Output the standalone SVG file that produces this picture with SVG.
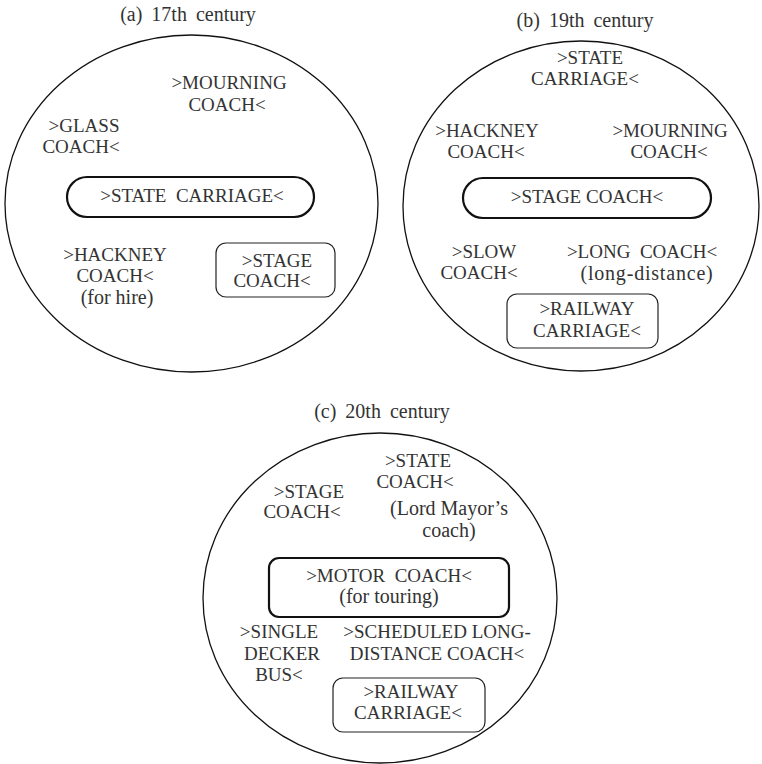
<svg xmlns="http://www.w3.org/2000/svg" width="762" height="764" viewBox="0 0 762 764">
<style>
text{font-family:"Liberation Serif","Times New Roman",serif;font-size:19px;fill:#333;text-anchor:middle}
.t{font-size:20px;word-spacing:4px}
.lc{font-size:20px}
.frame{fill:none;stroke:#111;stroke-width:1.3}
.thick{fill:none;stroke:#111;stroke-width:2.2}
.thin{fill:none;stroke:#222;stroke-width:1.2}
</style>
<rect width="762" height="764" fill="#fff"/>
<g id="panel-a">
<text class="t" x="188" y="21">(a) 17th century</text>
<ellipse class="frame" cx="191.5" cy="203.5" rx="186.5" ry="168.5"/>
<g id="a-mourning"><text x="229" y="89">&gt;MOURNING</text><text x="227" y="111">COACH&lt;</text></g>
<g id="a-glass"><text x="84" y="132">&gt;GLASS</text><text x="81" y="153">COACH&lt;</text></g>
<g id="a-state"><rect class="thick" x="67" y="177" width="247" height="40" rx="20"/><text x="192" y="202" xml:space="preserve">&gt;STATE  CARRIAGE&lt;</text></g>
<g id="a-hackney"><text x="115" y="261">&gt;HACKNEY</text><text x="115" y="282">COACH&lt;</text><text class="lc" x="117" y="304">(for hire)</text></g>
<g id="a-stage"><rect class="thin" x="216" y="243" width="119" height="54" rx="10"/><text x="277" y="267">&gt;STAGE</text><text x="272" y="287">COACH&lt;</text></g>
</g>
<g id="panel-b">
<text class="t" x="585" y="27">(b) 19th century</text>
<ellipse class="frame" cx="581" cy="206" rx="178" ry="165"/>
<g id="b-state"><text x="590" y="64">&gt;STATE</text><text x="585" y="85">CARRIAGE&lt;</text></g>
<g id="b-hackney"><text x="487" y="137">&gt;HACKNEY</text><text x="486" y="158">COACH&lt;</text></g>
<g id="b-mourning"><text x="670" y="137">&gt;MOURNING</text><text x="669" y="158">COACH&lt;</text></g>
<g id="b-stage"><rect class="thick" x="463" y="178" width="248" height="40" rx="20"/><text x="587" y="203">&gt;STAGE COACH&lt;</text></g>
<g id="b-slow"><text x="484" y="258">&gt;SLOW</text><text x="479" y="279">COACH&lt;</text></g>
<g id="b-long"><text x="642" y="258" xml:space="preserve">&gt;LONG  COACH&lt;</text><text class="lc" x="647" y="280" letter-spacing="0.8">(long-distance)</text></g>
<g id="b-railway"><rect class="thin" x="507" y="294" width="151" height="54" rx="10"/><text x="587" y="315">&gt;RAILWAY</text><text x="587" y="337">CARRIAGE&lt;</text></g>
</g>
<g id="panel-c">
<text class="t" x="382" y="418">(c) 20th century</text>
<ellipse class="frame" cx="380" cy="598" rx="177" ry="165"/>
<g id="c-state"><text x="418" y="467">&gt;STATE</text><text x="415" y="488">COACH&lt;</text><text class="lc" x="449" y="515">(Lord Mayor’s</text><text class="lc" x="449" y="537">coach)</text></g>
<g id="c-stage"><text x="309" y="498">&gt;STAGE</text><text x="302" y="518">COACH&lt;</text></g>
<g id="c-motor"><rect class="thick" x="269" y="558" width="240" height="59" rx="10"/><text x="389" y="582" xml:space="preserve">&gt;MOTOR  COACH&lt;</text><text class="lc" x="389" y="603">(for touring)</text></g>
<g id="c-single"><text x="279" y="638">&gt;SINGLE</text><text x="282" y="660">DECKER</text><text x="279" y="681">BUS&lt;</text></g>
<g id="c-scheduled"><text x="437" y="638">&gt;SCHEDULED LONG-</text><text x="437" y="660">DISTANCE COACH&lt;</text></g>
<g id="c-railway"><rect class="thin" x="333" y="678" width="152" height="54" rx="10"/><text x="411" y="698">&gt;RAILWAY</text><text x="408" y="719">CARRIAGE&lt;</text></g>
</g>
<g id="connectors"/>
</svg>
